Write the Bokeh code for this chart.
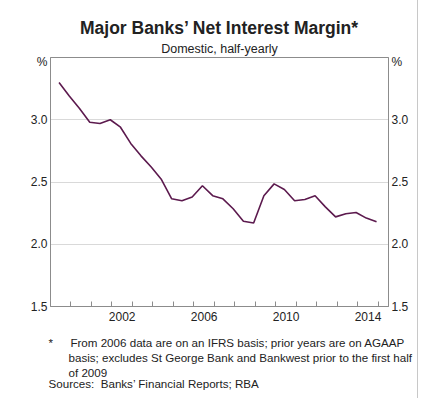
from bokeh.plotting import figure
from bokeh.models import Range1d, LinearAxis, FixedTicker, Title
from bokeh.embed import file_html
from bokeh.resources import INLINE

# ---- data ----
periods = ["1999-06", "1999-12", "2000-06", "2000-12", "2001-06", "2001-12",
           "2002-06", "2002-12", "2003-06", "2003-12", "2004-06", "2004-12",
           "2005-06", "2005-12", "2006-06", "2006-12", "2007-06", "2007-12",
           "2008-06", "2008-12", "2009-06", "2009-12", "2010-06", "2010-12",
           "2011-06", "2011-12", "2012-06", "2012-12", "2013-06", "2013-12",
           "2014-06", "2014-12"]
nim = [3.30, 3.19, 3.09, 2.98, 2.97, 3.00,
       2.94, 2.81, 2.71, 2.62, 2.52, 2.365,
       2.35, 2.38, 2.47, 2.39, 2.365, 2.285,
       2.185, 2.17, 2.39, 2.485, 2.44, 2.35,
       2.36, 2.39, 2.30, 2.22, 2.245, 2.255,
       2.21, 2.18]
year_ticks = list(range(2000, 2016))
year_labels = {2002.5: "2002", 2006.5: "2006", 2010.5: "2010", 2014.5: "2014"}
y_ticks = [1.5, 2.0, 2.5, 3.0]
y_grid = [2.0, 2.5, 3.0]

title = "Major Banks\u2019 Net Interest Margin*"
subtitle = "Domestic, half-yearly"
note_star = "*"
note_lines = ["From 2006 data are on an IFRS basis; prior years are on AGAAP",
              "basis; excludes St George Bank and Bankwest prior to the first half",
              "of 2009"]
sources = "Sources:\u00a0 Banks\u2019 Financial Reports; RBA"

x = [int(s[:4]) + (int(s[5:]) - 1) / 12 for s in periods]

FONT = "Liberation Sans"
TXT = "#222222"
AX = "#8c8c8c"

W, H = 418, 398
p = figure(width=W, height=H, output_backend="svg", toolbar_location=None,
           x_range=Range1d(1999, 2015.5), y_range=Range1d(1.5, 3.5),
           min_border_left=50, min_border_right=W - 388, min_border_top=57,
           min_border_bottom=H - 306, y_axis_location=None, x_axis_location=None)
p.styles = {"border-right": "1px solid #c8c8c8"}
p.outline_line_color = AX
p.outline_line_width = 1
p.xgrid.visible = False
p.ygrid.ticker = FixedTicker(ticks=y_grid)
p.ygrid.grid_line_color = "#d9d9d9"
p.ygrid.grid_line_width = 1

xax = LinearAxis(ticker=FixedTicker(ticks=list(year_labels.keys()), minor_ticks=year_ticks))
xax.major_label_overrides = year_labels
xax.major_tick_in = 0
xax.major_tick_out = 0
xax.minor_tick_in = 5
xax.minor_tick_out = 0
xax.minor_tick_line_color = AX
xax.axis_line_color = AX
xax.major_label_text_font = FONT
xax.major_label_text_font_size = "12px"
xax.major_label_text_color = TXT
xax.major_label_standoff = 5
p.add_layout(xax, "below")

for side in ("left", "right"):
    yax = LinearAxis(ticker=FixedTicker(ticks=y_ticks + [3.46]))
    yax.major_label_overrides = {3.46: "%", 1.5: "1.5", 2.0: "2.0", 2.5: "2.5", 3.0: "3.0"}
    yax.major_tick_in = 0
    yax.major_tick_out = 0
    yax.minor_tick_line_color = None
    yax.axis_line_color = AX
    yax.major_label_text_font = FONT
    yax.major_label_text_font_size = "12px"
    yax.major_label_text_color = TXT
    yax.major_label_standoff = 3
    p.add_layout(yax, side)

p.line(x, nim, line_color="#5c1a4e", line_width=1.6)

def ttl(text, where, size, bold=False, align="center", offset=0, standoff=0):
    t = Title(text=text, align=align, offset=offset, standoff=standoff,
              text_font=FONT, text_font_size=size, text_color=TXT,
              text_font_style="bold" if bold else "normal")
    p.add_layout(t, where)

ttl(subtitle, "above", "12.5px", standoff=3)
ttl(title, "above", "17.5px", bold=True, standoff=2)

# spacer between axis labels and footnote block
ttl(" ", "below", "1px", align="left", standoff=7)
ttl(note_star + "\u2003\u2002" + note_lines[0], "below", "11.6px", align="left", offset=-2, standoff=0)
ttl(note_lines[1], "below", "11.6px", align="left", offset=18, standoff=0)
ttl(note_lines[2], "below", "11.6px", align="left", offset=18, standoff=0)
ttl(sources, "below", "11.6px", align="left", offset=-2, standoff=-8)

open("out.html", "w").write(file_html(p, INLINE))
